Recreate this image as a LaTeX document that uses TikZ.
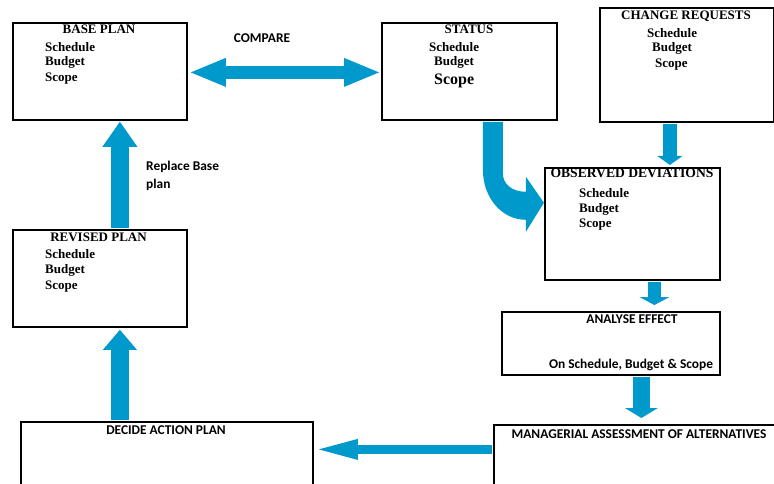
\documentclass[tikz,border=0pt]{standalone}
\usepackage{fontspec}
\setmainfont{Liberation Serif}
\newfontfamily\calib{Carlito}
\usetikzlibrary{arrows.meta,calc}
\definecolor{arrowblue}{RGB}{0,153,204}
\begin{document}
\begin{tikzpicture}[x=1pt,y=-1pt,
  box/.style={draw=black,line width=1.8pt,inner sep=0pt,anchor=north west},
  serif/.style={font=\fontsize{13}{15}\selectfont\bfseries,inner sep=0pt},
  title/.style={serif,anchor=base},
  item/.style={serif,anchor=base west},
  sanslbl/.style={font=\calib\fontsize{13.4}{16}\selectfont\bfseries,inner sep=0pt},
  blk/.style={draw=arrowblue,line cap=butt}]
\useasboundingbox (0,0) rectangle (774,484);
\clip (0,0) rectangle (774,484);
\fill[white] (0,0) rectangle (774,484);

% boxes
\node[box,minimum width=174pt,minimum height=97pt] (base) at (12,22) {};
\node[box,minimum width=175pt,minimum height=97pt] (status) at (381,22) {};
\node[box,minimum width=174pt,minimum height=114pt] (change) at (599,7) {};
\node[box,minimum width=175pt,minimum height=112pt] (observed) at (544,167) {};
\node[box,minimum width=218pt,minimum height=63pt] (analyse) at (501,311) {};
\node[box,minimum width=300pt,minimum height=80pt] (manag) at (493,424) {};
\node[box,minimum width=292pt,minimum height=80pt] (decide) at (20,421) {};
\node[box,minimum width=174pt,minimum height=97pt] (revised) at (12,229) {};

% straight block arrows
\draw[blk,line width=13pt,{Triangle[length=35pt,width=29pt,line width=0pt]}-{Triangle[length=35pt,width=29pt,line width=0pt]}]
  ($(base.east)+(3,1)$) -- ($(status.west)+(-2,1)$);
\draw[blk,line width=14pt,-{Triangle[length=9pt,width=25pt,line width=0pt]}]
  ($(change.south)+(-17,1)$) -- ($(observed.north)+(37.5,-2)$);
\draw[blk,line width=13pt,-{Triangle[length=8pt,width=30pt,line width=0pt]}]
  ($(observed.south)+(22,1)$) -- ($(analyse.north)+(43.5,-6)$);
\draw[blk,line width=17pt,-{Triangle[length=10pt,width=33pt,line width=0pt]}]
  ($(analyse.south)+(30.5,1)$) -- ($(manag.north)+(-2.5,-6)$);
\draw[blk,line width=9pt,-{Triangle[length=39pt,width=21pt,line width=0pt]}]
  ($(manag.west)+(-1,-15.5)$) -- ($(decide.east)+(5,-12.5)$);
\draw[blk,line width=18pt,-{Triangle[length=20pt,width=34pt,line width=0pt]}]
  ($(decide.north)+(-47,-1)$) -- ($(revised.south)+(20,2)$);
\draw[blk,line width=18pt,-{Triangle[length=25pt,width=35pt,line width=0pt]}]
  ($(revised.north)+(20,-1)$) -- ($(base.south)+(20,1)$);

% curved block arrow status -> observed deviations
\begin{scope}[shift={(status.south)}]
\fill[arrowblue] (13.5,1) -- (13.5,49) .. controls (13.5,77) and (32.5,99) .. (56.5,99)
  -- (56.5,111) -- (74.5,82) -- (56.5,56) -- (56.5,71)
  .. controls (42.5,71) and (33.5,63) .. (33.5,53) -- (33.5,1) -- cycle;
\end{scope}

% texts
\node[title] (baset) at (99,34) {BASE PLAN};
\node[item] (base1) at (45,52) {Schedule};
\node[item] (base2) at (45,66) {Budget};
\node[item] (base3) at (45,82) {Scope};

\node[title] (statust) at (469,34) {STATUS};
\node[item] (status1) at (429,52) {Schedule};
\node[item] (status2) at (434,66) {Budget};
\node[item,font=\fontsize{16}{18}\selectfont\bfseries] (status3) at (434,85) {Scope};

\node[title] (changet) at (686,20) {CHANGE REQUESTS};
\node[item] (change1) at (647,38) {Schedule};
\node[item] (change2) at (652,52) {Budget};
\node[item] (change3) at (655,68) {Scope};

\node[title,font=\fontsize{13.6}{15}\selectfont\bfseries] (observedt) at (632,178) {OBSERVED DEVIATIONS};
\node[item] (observed1) at (579,197) {Schedule};
\node[item] (observed2) at (579,212) {Budget};
\node[item] (observed3) at (579,227) {Scope};

\node[title] (revisedt) at (98.5,241) {REVISED PLAN};
\node[item] (revised1) at (45,258) {Schedule};
\node[item] (revised2) at (45,273) {Budget};
\node[item] (revised3) at (45,289) {Scope};

\node[sanslbl,anchor=base] (analyset) at (632,323) {ANALYSE EFFECT};
\node[sanslbl,anchor=base] (analyse1) at (631,368) {On Schedule, Budget \& Scope};
\node[sanslbl,anchor=base] (managt) at (639,438) {MANAGERIAL ASSESSMENT OF ALTERNATIVES};
\node[sanslbl,anchor=base] (decidet) at (166,434) {DECIDE ACTION PLAN};
\node[sanslbl,anchor=base] (comparet) at (262,43) {COMPARE};
\node[sanslbl,anchor=base west] (replace1) at (146,171) {Replace Base};
\node[sanslbl,anchor=base west] (replace2) at (146,189) {plan};
\end{tikzpicture}
\end{document}
